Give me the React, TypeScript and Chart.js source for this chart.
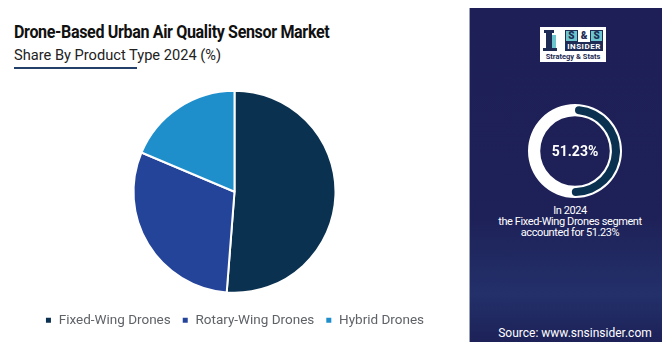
import React, { useEffect, useRef } from "react";
import { Chart, registerables } from "chart.js";

Chart.register(...registerables);

const categories = ["Fixed-Wing Drones", "Rotary-Wing Drones", "Hybrid Drones"];
const shares = [51.23, 30.12, 18.65];
const sliceColors = ["#0b3150", "#24449a", "#1f8fcc"];
const highlightValue = [51.23, 48.77];
const titleText = "Drone-Based Urban Air Quality Sensor Market";
const subtitleText = "Share By Product Type 2024 (%)";
const calloutLines = ["In 2024", "the Fixed-Wing Drones segment", "accounted for 51.23%"];
const sourceText = "Source: www.snsinsider.com";

const FONT = "Roboto, 'Noto Sans', sans-serif";
const NAVY = "#1d1f56";

function PieChart() {
  const ref = useRef<HTMLCanvasElement | null>(null);
  useEffect(() => {
    if (!ref.current) return;
    const chart = new Chart(ref.current, {
      type: "pie",
      data: {
        labels: categories,
        datasets: [
          {
            data: shares,
            backgroundColor: sliceColors,
            borderColor: "#ffffff",
            borderWidth: 2,
            radius: 101,
          },
        ],
      },
      options: {
        animation: false,
        responsive: false,
        maintainAspectRatio: false,
        layout: { padding: { top: 10, left: 6 } },
        plugins: {
          tooltip: { enabled: false },
          legend: {
            position: "bottom",
            labels: {
              boxWidth: 7,
              boxHeight: 7,
              padding: 11,
              color: "#5f6368",
              font: { family: FONT, size: 13.5 },
            },
          },
        },
      },
    });
    return () => chart.destroy();
  }, []);
  return (
    <canvas
      ref={ref}
      width={469}
      height={266}
      style={{ position: "absolute", left: -3, top: 71, width: 469, height: 266 }}
    />
  );
}

function RingChart({ data, colors, cutout, size, left, top, radiusCaps }: any) {
  const ref = useRef<HTMLCanvasElement | null>(null);
  useEffect(() => {
    if (!ref.current) return;
    const chart = new Chart(ref.current, {
      type: "doughnut",
      data: {
        labels: data.map((_: number, i: number) => String(i)),
        datasets: [
          {
            data,
            backgroundColor: colors,
            borderWidth: 0,
            cutout,
            borderRadius: radiusCaps ? 4 : 0,
          },
        ],
      },
      options: {
        animation: false,
        responsive: false,
        maintainAspectRatio: false,
        plugins: { legend: { display: false }, tooltip: { enabled: false } },
      },
    });
    return () => chart.destroy();
  }, []);
  return (
    <canvas
      ref={ref}
      width={size}
      height={size}
      style={{ position: "absolute", left, top, width: size, height: size }}
    />
  );
}

function Logo() {
  const sBox: React.CSSProperties = {
    width: 11,
    height: 10,
    background: "#6cc5cc",
    border: "1px solid #1d2b55",
    color: "#1d2b55",
    fontSize: 10,
    fontWeight: 900,
    lineHeight: "10px",
    textAlign: "center",
    fontFamily: FONT,
  };
  return (
    <div
      style={{
        position: "absolute",
        left: 540,
        top: 27,
        width: 66,
        height: 35,
        background: "#ffffff",
      }}
    >
      <div style={{ position: "absolute", left: 4, top: 3, width: 10, height: 3, background: "#1d2b55" }} />
      <div style={{ position: "absolute", left: 6, top: 6, width: 6, height: 17, background: "#1d2b55" }} />
      <div style={{ position: "absolute", left: 12, top: 8, width: 4, height: 15, background: "#6cc5cc" }} />
      <div style={{ position: "absolute", left: 3, top: 21, width: 14, height: 3, background: "#1d2b55" }} />
      <div style={{ position: "absolute", left: 25, top: 3, width: 38, display: "flex", justifyContent: "space-between" }}>
        <div style={sBox}>S</div>
        <div style={{ ...sBox, background: "#ffffff", border: "1px solid #ffffff" }}>&amp;</div>
        <div style={sBox}>S</div>
      </div>
      <div
        style={{
          position: "absolute",
          left: 25,
          top: 15,
          width: 38,
          height: 9,
          background: "#1d2b55",
          color: "#ffffff",
          fontSize: 8,
          fontWeight: 700,
          lineHeight: "9px",
          textAlign: "center",
          letterSpacing: 0.5,
          fontFamily: FONT,
        }}
      >
        INSIDER
      </div>
      <div
        style={{
          position: "absolute",
          left: 2,
          top: 25,
          width: 62,
          color: "#1d2b55",
          fontSize: 7.5,
          fontWeight: 700,
          lineHeight: "9px",
          textAlign: "center",
          fontFamily: FONT,
          whiteSpace: "nowrap",
        }}
      >
        Strategy &amp; Stats
      </div>
    </div>
  );
}

export default function App() {
  return (
    <div
      style={{
        position: "relative",
        width: 670,
        height: 350,
        margin: -8,
        overflow: "hidden",
        background: NAVY,
        fontFamily: FONT,
      }}
    >
      <div
        style={{
          position: "absolute",
          left: 469,
          top: 0,
          width: 201,
          height: 350,
          background:
            "linear-gradient(180deg, #1d1f56 0%, #1e2158 62%, #23306a 84%, #1c1f55 100%)",
        }}
      />
      <div
        style={{
          position: "absolute",
          left: 0,
          top: 5,
          width: 470,
          height: 345,
          background: "#ffffff",
          boxSizing: "border-box",
          borderLeft: "2px solid #c4c4c4",
          borderBottom: "2px solid #c4c4c4",
          borderRight: "1px solid #9aa0b8",
        }}
      />
      <div
        style={{
          position: "absolute",
          left: 14,
          top: 21,
          fontSize: 18,
          fontWeight: 700,
          color: "#111111",
          whiteSpace: "nowrap",
          letterSpacing: -0.4,
          transform: "scaleX(0.893)",
          transformOrigin: "0 0",
        }}
      >
        {titleText}
      </div>
      <div
        style={{
          position: "absolute",
          left: 14,
          top: 46,
          fontSize: 15,
          color: "#222222",
          whiteSpace: "nowrap",
          transform: "scaleX(0.975)",
          transformOrigin: "0 0",
        }}
      >
        {subtitleText}
      </div>
      <div style={{ position: "absolute", left: 14, top: 67, width: 123, height: 2, background: "#23406a" }} />
      <PieChart />

      <Logo />
      <RingChart data={[100]} colors={["#ffffff"]} cutout="74%" size={94} left={528} top={104} />
      <RingChart
        data={highlightValue}
        colors={["#0b3150", "rgba(0,0,0,0)"]}
        cutout="82%"
        size={90}
        left={530}
        top={106}
        radiusCaps
      />
      <div
        style={{
          position: "absolute",
          left: 535,
          top: 143,
          width: 80,
          textAlign: "center",
          color: "#ffffff",
          fontSize: 14,
          fontWeight: 700,
        }}
      >
        51.23%
      </div>
      <div
        style={{
          position: "absolute",
          left: 470,
          top: 205,
          width: 200,
          textAlign: "center",
          color: "#ffffff",
          fontSize: 11,
          lineHeight: "11px",
          letterSpacing: -0.4,
        }}
      >
        {calloutLines.map((l) => (
          <div key={l}>{l}</div>
        ))}
      </div>
      <div
        style={{
          position: "absolute",
          left: 470,
          top: 326,
          width: 210,
          textAlign: "center",
          color: "#ffffff",
          fontSize: 12,
          whiteSpace: "nowrap",
        }}
      >
        {sourceText}
      </div>
    </div>
  );
}
